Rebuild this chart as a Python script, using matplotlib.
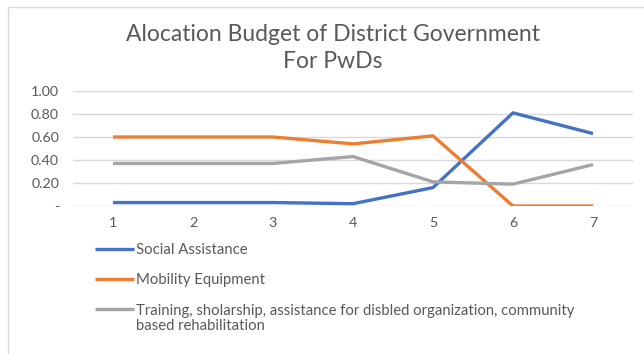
import matplotlib
matplotlib.use("Agg")
import matplotlib.pyplot as plt
from matplotlib.patches import Rectangle

categories = ["1", "2", "3", "4", "5", "6", "7"]
social_assistance = [0.03, 0.03, 0.03, 0.02, 0.16, 0.81, 0.63]
mobility_equipment = [0.60, 0.60, 0.60, 0.54, 0.61, 0.00, 0.00]
training = [0.37, 0.37, 0.37, 0.43, 0.21, 0.19, 0.36]
y_ticks = [0.0, 0.2, 0.4, 0.6, 0.8, 1.0]
y_ticklabels = ["-", "0.20", "0.40", "0.60", "0.80", "1.00"]
series_labels = ["Social Assistance", "Mobility Equipment",
                 "Training, sholarship, assistance for disbled organization, community"]
extra_label_line = "based rehabilitation"
title = "Alocation Budget of District Government\nFor PwDs"

plt.rcParams['font.family'] = ['Lato', 'DejaVu Sans']

W, H = 644, 354
fig = plt.figure(figsize=(W / 100, H / 100), dpi=100)
fig.patch.set_facecolor("white")

# chart border
fig.patches.append(Rectangle((8 / W, -0.1), 1.2, 1 - 7 / H + 0.1, transform=fig.transFigure,
                             fill=False, edgecolor="#d9d9d9", linewidth=1.0))

ax = fig.add_axes([73 / W, 1 - 206 / H, (633 - 73) / W, (206 - 91) / H])
x = list(range(1, len(categories) + 1))
colors = ["#4472c4", "#ed7d31", "#a5a5a5"]
for vals, c, lab in zip([social_assistance, mobility_equipment, training], colors, series_labels):
    ax.plot(x, vals, color=c, linewidth=2.4, label=lab, solid_capstyle="butt")

ax.set_xlim(0.5, len(categories) + 0.5)
ax.set_ylim(0, 1.0)
ax.set_yticks(y_ticks)
ax.set_yticklabels(y_ticklabels)
ax.set_xticks(x)
ax.set_xticklabels(categories)
ax.grid(axis="y", color="#d9d9d9", linewidth=1.0)
ax.set_axisbelow(True)
for s in ax.spines.values():
    s.set_visible(False)
ax.tick_params(axis="both", length=0, labelsize=10.3, colors="#595959")
ax.tick_params(axis="y", pad=10)
ax.tick_params(axis="x", pad=8)

fig.text(333 / W, 1 - 48 / H, title, ha="center", va="center", fontsize=16.5,
         color="#595959", linespacing=1.3)

leg = fig.legend(loc="upper left", bbox_to_anchor=(89 / W, 1 - 237 / H), frameon=False,
                 fontsize=10.7, handlelength=2.6, handletextpad=0.15, labelspacing=1.1,
                 borderaxespad=0)
for t in leg.get_texts():
    t.set_color("#595959")

fig.canvas.draw()
t3 = leg.get_texts()[2]
bb = t3.get_window_extent()
fig.text(bb.x0 / W, (bb.y0 - 15) / H, extra_label_line, ha="left", va="bottom",
         fontsize=10.7, color="#595959")

fig.savefig("out.png", dpi=100, facecolor="white")
